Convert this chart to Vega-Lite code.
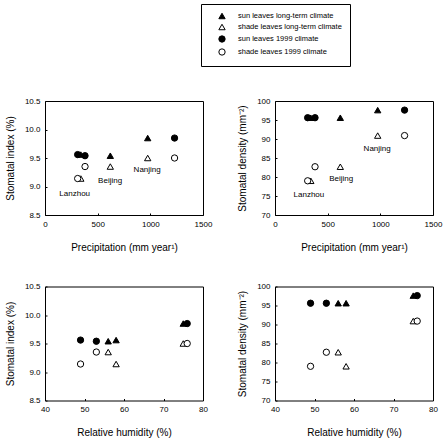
{
  "$schema": "https://vega.github.io/schema/vega-lite/v6.json",
  "padding": {"left": 4, "top": 3, "right": 5, "bottom": 5},
  "datasets": {
    "obs": [
      {"series": "sun leaves long-term climate", "site": "Lanzhou", "precip": 340, "humidity": 58, "index": 9.56, "density": 95.6},
      {"series": "shade leaves long-term climate", "site": "Lanzhou", "precip": 340, "humidity": 58, "index": 9.14, "density": 79.0},
      {"series": "sun leaves 1999 climate", "site": "Lanzhou", "precip": 310, "humidity": 49, "index": 9.56, "density": 95.6},
      {"series": "shade leaves 1999 climate", "site": "Lanzhou", "precip": 310, "humidity": 49, "index": 9.14, "density": 79.0},
      {"series": "sun leaves long-term climate", "site": "Beijing", "precip": 620, "humidity": 56, "index": 9.54, "density": 95.6},
      {"series": "shade leaves long-term climate", "site": "Beijing", "precip": 620, "humidity": 56, "index": 9.35, "density": 82.7},
      {"series": "sun leaves 1999 climate", "site": "Beijing", "precip": 380, "humidity": 53, "index": 9.54, "density": 95.6},
      {"series": "shade leaves 1999 climate", "site": "Beijing", "precip": 380, "humidity": 53, "index": 9.35, "density": 82.7},
      {"series": "sun leaves long-term climate", "site": "Nanjing", "precip": 975, "humidity": 75, "index": 9.85, "density": 97.6},
      {"series": "shade leaves long-term climate", "site": "Nanjing", "precip": 975, "humidity": 75, "index": 9.50, "density": 90.9},
      {"series": "sun leaves 1999 climate", "site": "Nanjing", "precip": 1230, "humidity": 76, "index": 9.85, "density": 97.6},
      {"series": "shade leaves 1999 climate", "site": "Nanjing", "precip": 1230, "humidity": 76, "index": 9.50, "density": 90.9}
    ],
    "sitesIndex": [
      {"site": "Lanzhou", "precip": 282, "index": 8.86},
      {"site": "Beijing", "precip": 618, "index": 9.095},
      {"site": "Nanjing", "precip": 970, "index": 9.29}
    ],
    "sitesDensity": [
      {"site": "Lanzhou", "precip": 322, "density": 75.3},
      {"site": "Beijing", "precip": 628, "density": 79.4},
      {"site": "Nanjing", "precip": 970, "density": 87.3}
    ]
  },
  "config": {
    "font": "Liberation Sans",
    "view": {"stroke": "black", "strokeWidth": 1},
    "axis": {
      "domain": false, "grid": false, "ticks": true, "tickSize": -2, "tickColor": "black",
      "labelFont": "Liberation Sans", "labelFontSize": 8, "labelColor": "black", "labelPadding": 7,
      "labelFlush": false, "labelOverlap": false,
      "titleFont": "Liberation Sans", "titleFontSize": 10, "titleFontWeight": "normal", "titleColor": "black"
    },
    "axisY": {"titlePadding": 9},
    "axisX": {"titlePadding": 14},
    "legend": {
      "padding": 8, "strokeColor": "black", "fillColor": "white", "cornerRadius": 0,
      "labelFont": "Liberation Sans", "labelFontSize": 7.5, "labelColor": "black", "labelLimit": 300,
      "symbolSize": 40, "symbolStrokeColor": "black", "symbolStrokeWidth": 1,
      "rowPadding": 1, "labelOffset": 12, "symbolOffset": 9
    }
  },
  "spacing": 28.5,
  "vconcat": [
    {
      "spacing": 72,
      "bounds": "flush",
      "hconcat": [
        {
          "width": 158, "height": 114,
          "encoding": {
            "x": {"field": "precip", "type": "quantitative", "scale": {"domain": [0, 1500], "nice": false, "zero": false}, "axis": {"values": [0, 500, 1000, 1500], "format": "d", "title": "Precipitation (mm year¹)"}},
            "y": {"field": "index", "type": "quantitative", "scale": {"domain": [8.5, 10.5], "nice": false, "zero": false}, "axis": {"values": [8.5, 9, 9.5, 10, 10.5], "format": ".1f", "title": "Stomatal index (%)"}}
          },
          "layer": [
            {
              "data": {"name": "obs"},
              "mark": {"type": "point", "filled": true, "strokeWidth": 1, "size": 40, "opacity": 1},
              "encoding": {
                "shape": {"field": "series", "type": "nominal", "scale": {"domain": ["sun leaves long-term climate", "shade leaves long-term climate", "sun leaves 1999 climate", "shade leaves 1999 climate"], "range": ["triangle-up", "triangle-up", "circle", "circle"]}, "legend": {"orient": "none", "legendX": 156, "legendY": -97, "title": null}},
                "fill": {"field": "series", "type": "nominal", "scale": {"domain": ["sun leaves long-term climate", "shade leaves long-term climate", "sun leaves 1999 climate", "shade leaves 1999 climate"], "range": ["black", "white", "black", "white"]}, "legend": {"orient": "none", "legendX": 156, "legendY": -97, "title": null}},
                "stroke": {"field": "series", "type": "nominal", "scale": {"domain": ["sun leaves long-term climate", "shade leaves long-term climate", "sun leaves 1999 climate", "shade leaves 1999 climate"], "range": ["black", "black", "black", "black"]}, "legend": {"orient": "none", "legendX": 156, "legendY": -97, "title": null}}
              }
            },
            {
              "data": {"name": "sitesIndex"},
              "mark": {"type": "text", "align": "center", "baseline": "middle", "fontSize": 8, "font": "Liberation Sans", "fill": "black"},
              "encoding": {"text": {"field": "site", "type": "nominal"}}
            }
          ]
        },
        {
          "width": 158, "height": 114,
          "encoding": {
            "x": {"field": "precip", "type": "quantitative", "scale": {"domain": [0, 1500], "nice": false, "zero": false}, "axis": {"values": [0, 500, 1000, 1500], "format": "d", "title": "Precipitation (mm year¹)"}},
            "y": {"field": "density", "type": "quantitative", "scale": {"domain": [70, 100], "nice": false, "zero": false}, "axis": {"values": [70, 75, 80, 85, 90, 95, 100], "title": "Stomatal density (mm⁻²)"}}
          },
          "layer": [
            {
              "data": {"name": "obs"},
              "mark": {"type": "point", "filled": true, "strokeWidth": 1, "size": 40, "opacity": 1},
              "encoding": {
                "shape": {"field": "series", "type": "nominal", "scale": {"domain": ["sun leaves long-term climate", "shade leaves long-term climate", "sun leaves 1999 climate", "shade leaves 1999 climate"], "range": ["triangle-up", "triangle-up", "circle", "circle"]}, "legend": {"orient": "none", "legendX": 156, "legendY": -97, "title": null}},
                "fill": {"field": "series", "type": "nominal", "scale": {"domain": ["sun leaves long-term climate", "shade leaves long-term climate", "sun leaves 1999 climate", "shade leaves 1999 climate"], "range": ["black", "white", "black", "white"]}, "legend": {"orient": "none", "legendX": 156, "legendY": -97, "title": null}},
                "stroke": {"field": "series", "type": "nominal", "scale": {"domain": ["sun leaves long-term climate", "shade leaves long-term climate", "sun leaves 1999 climate", "shade leaves 1999 climate"], "range": ["black", "black", "black", "black"]}, "legend": {"orient": "none", "legendX": 156, "legendY": -97, "title": null}}
              }
            },
            {
              "data": {"name": "sitesDensity"},
              "mark": {"type": "text", "align": "center", "baseline": "middle", "fontSize": 8, "font": "Liberation Sans", "fill": "black"},
              "encoding": {"text": {"field": "site", "type": "nominal"}}
            }
          ]
        }
      ]
    },
    {
      "spacing": 72,
      "bounds": "flush",
      "hconcat": [
        {
          "width": 158, "height": 114,
          "data": {"name": "obs"},
          "mark": {"type": "point", "filled": true, "strokeWidth": 1, "size": 40, "opacity": 1},
          "encoding": {
            "x": {"field": "humidity", "type": "quantitative", "scale": {"domain": [40, 80], "nice": false, "zero": false}, "axis": {"values": [40, 50, 60, 70, 80], "title": "Relative humidity (%)"}},
            "y": {"field": "index", "type": "quantitative", "scale": {"domain": [8.5, 10.5], "nice": false, "zero": false}, "axis": {"values": [8.5, 9, 9.5, 10, 10.5], "format": ".1f", "title": "Stomatal index (%)"}},
            "shape": {"field": "series", "type": "nominal", "scale": {"domain": ["sun leaves long-term climate", "shade leaves long-term climate", "sun leaves 1999 climate", "shade leaves 1999 climate"], "range": ["triangle-up", "triangle-up", "circle", "circle"]}, "legend": {"orient": "none", "legendX": 156, "legendY": -97, "title": null}},
            "fill": {"field": "series", "type": "nominal", "scale": {"domain": ["sun leaves long-term climate", "shade leaves long-term climate", "sun leaves 1999 climate", "shade leaves 1999 climate"], "range": ["black", "white", "black", "white"]}, "legend": {"orient": "none", "legendX": 156, "legendY": -97, "title": null}},
            "stroke": {"field": "series", "type": "nominal", "scale": {"domain": ["sun leaves long-term climate", "shade leaves long-term climate", "sun leaves 1999 climate", "shade leaves 1999 climate"], "range": ["black", "black", "black", "black"]}, "legend": {"orient": "none", "legendX": 156, "legendY": -97, "title": null}}
          }
        },
        {
          "width": 158, "height": 114,
          "data": {"name": "obs"},
          "mark": {"type": "point", "filled": true, "strokeWidth": 1, "size": 40, "opacity": 1},
          "encoding": {
            "x": {"field": "humidity", "type": "quantitative", "scale": {"domain": [40, 80], "nice": false, "zero": false}, "axis": {"values": [40, 50, 60, 70, 80], "title": "Relative humidity (%)"}},
            "y": {"field": "density", "type": "quantitative", "scale": {"domain": [70, 100], "nice": false, "zero": false}, "axis": {"values": [70, 75, 80, 85, 90, 95, 100], "title": "Stomatal density (mm⁻²)"}},
            "shape": {"field": "series", "type": "nominal", "scale": {"domain": ["sun leaves long-term climate", "shade leaves long-term climate", "sun leaves 1999 climate", "shade leaves 1999 climate"], "range": ["triangle-up", "triangle-up", "circle", "circle"]}, "legend": {"orient": "none", "legendX": 156, "legendY": -97, "title": null}},
            "fill": {"field": "series", "type": "nominal", "scale": {"domain": ["sun leaves long-term climate", "shade leaves long-term climate", "sun leaves 1999 climate", "shade leaves 1999 climate"], "range": ["black", "white", "black", "white"]}, "legend": {"orient": "none", "legendX": 156, "legendY": -97, "title": null}},
            "stroke": {"field": "series", "type": "nominal", "scale": {"domain": ["sun leaves long-term climate", "shade leaves long-term climate", "sun leaves 1999 climate", "shade leaves 1999 climate"], "range": ["black", "black", "black", "black"]}, "legend": {"orient": "none", "legendX": 156, "legendY": -97, "title": null}}
          }
        }
      ]
    }
  ]
}
